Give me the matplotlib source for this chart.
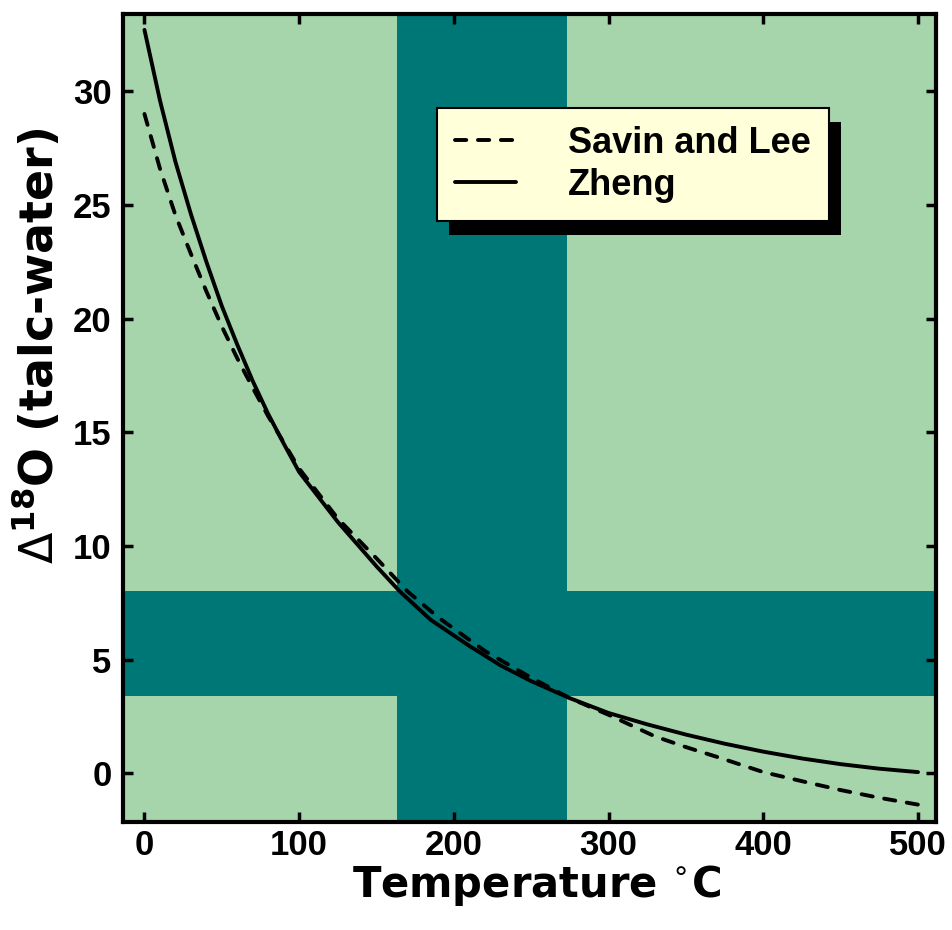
import matplotlib
matplotlib.use("Agg")
import matplotlib.pyplot as plt
from matplotlib.patches import Rectangle
from matplotlib.transforms import IdentityTransform

plt.rcParams['font.family'] = ['Liberation Sans', 'DejaVu Sans']
plt.rcParams['font.weight'] = 'bold'
plt.rcParams['mathtext.fontset'] = 'custom'
plt.rcParams['mathtext.rm'] = 'DejaVu Sans:normal'
plt.rcParams['mathtext.sf'] = 'DejaVu Sans:normal'
plt.rcParams['mathtext.bf'] = 'DejaVu Sans:bold'

# curves
zheng_t = [0, 10, 20, 30, 40, 50, 60, 70, 80, 90, 100, 125, 150, 165, 185,
           210, 230, 250, 275, 300, 325, 350, 375, 400, 425, 450, 475, 500]
zheng_d = [32.7, 29.6, 26.9, 24.6, 22.5, 20.55, 18.85, 17.25, 15.8, 14.5,
           13.25, 11.05, 9.1, 8.0, 6.75, 5.6, 4.75, 4.05, 3.3, 2.65, 2.15,
           1.7, 1.3, 0.95, 0.65, 0.4, 0.2, 0.05]

savin_t = [0, 10, 20, 30, 40, 50, 60, 70, 80, 90, 100, 125, 150, 170, 190,
           220, 250, 275, 300, 330, 350, 370, 400, 425, 450, 475, 500]
savin_d = [29.0, 26.6, 24.55, 22.85, 21.2, 19.65, 18.25, 16.95, 15.7, 14.55,
           13.4, 11.2, 9.45, 8.0, 6.85, 5.38, 4.2, 3.3, 2.57, 1.62, 1.15,
           0.72, 0.05, -0.35, -0.74, -1.08, -1.38]

# shaded ranges
t_band = [163, 273]
d_band = [3.4, 8.0]

light = '#a6d4ab'
teal = '#007777'

fig = plt.figure(figsize=(9.52, 9.3), dpi=100)
ax = fig.add_axes([0.129, 0.116, 0.854, 0.869])
ax.set_facecolor(light)

ax.axvspan(t_band[0], t_band[1], color=teal, lw=0, zorder=1)
ax.axhspan(d_band[0], d_band[1], color=teal, lw=0, zorder=1)

ax.plot(savin_t, savin_d, color='black', lw=2.8, ls=(0, (2.9, 3.0)),
        dash_capstyle='round', label='Savin and Lee', zorder=3)
ax.plot(zheng_t, zheng_d, color='black', lw=2.8, solid_capstyle='round',
        label='Zheng', zorder=3)

ax.set_xlim(-14, 511.5)
ax.set_ylim(-2.15, 33.4)
ax.set_xticks([0, 100, 200, 300, 400, 500])
ax.set_yticks([0, 5, 10, 15, 20, 25, 30])
ax.tick_params(direction='in', length=7.5, width=2.5, labelsize=25,
               top=True, right=True)
ax.tick_params(axis='x', pad=5)
ax.tick_params(axis='y', pad=8)
for lab in ax.get_xticklabels() + ax.get_yticklabels():
    lab.set_fontweight('bold')
for s in ax.spines.values():
    s.set_linewidth(3)

ax.set_xlabel(r'Temperature $^{\circ}$C', fontsize=30, fontweight='bold',
              family=['DejaVu Sans'])
ax.set_ylabel(r'$\mathsf{\Delta}^{\mathbf{18}}$O (talc-water)', fontsize=33,
              fontweight='bold', family=['DejaVu Sans'])
ax.xaxis.set_label_coords(0.509, -0.05)
ax.yaxis.set_label_coords(-0.074, 0.589)

leg = ax.legend(loc='upper left', bbox_to_anchor=(0.387, 0.884),
                fontsize=26, frameon=True, fancybox=False,
                handlelength=1.67, handletextpad=1.45, borderpad=0.5,
                labelspacing=0.2, borderaxespad=0)
leg.get_frame().set_facecolor('#ffffd9')
leg.get_frame().set_edgecolor('black')
leg.get_frame().set_linewidth(1.5)
leg.get_frame().set_alpha(1)
leg.set_zorder(6)
for t in leg.get_texts():
    t.set_fontweight('bold')

fig.canvas.draw()
bb = leg.get_window_extent()
shadow = Rectangle((bb.x0 + 12, bb.y0 - 14), bb.width, bb.height,
                   transform=IdentityTransform(), facecolor='black',
                   edgecolor='none', zorder=5)
ax.add_artist(shadow)

fig.savefig('out.png', dpi=100)
